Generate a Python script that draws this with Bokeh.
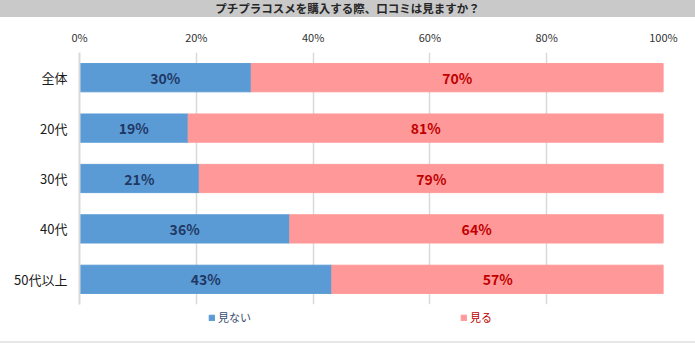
from bokeh.plotting import figure
from bokeh.models import ColumnDataSource, Legend, LegendItem, Div, PrintfTickFormatter, FixedTicker
from bokeh.layouts import column
from bokeh.embed import file_html
from bokeh.resources import INLINE
from bokeh.core.properties import value

title = "プチプラコスメを購入する際、口コミは見ますか？"
categories = ["全体", "20代", "30代", "40代", "50代以上"]
not_see = [29.4, 18.6, 20.5, 36.0, 43.2]
see = [70.6, 81.4, 79.5, 64.0, 56.8]
not_see_labels = ["30%", "19%", "21%", "36%", "43%"]
see_labels = ["70%", "81%", "79%", "64%", "57%"]
x_ticks = [0, 20, 40, 60, 80, 100]
series_names = ["見ない", "見る"]

FONT = "Noto Sans CJK JP"
BLUE = "#5B9BD5"
PINK = "#FF9999"

src = ColumnDataSource(dict(
    cat=categories,
    not_see=not_see,
    see=see,
    not_mid=[v / 2 for v in not_see],
    see_mid=[a + b / 2 for a, b in zip(not_see, see)],
    not_lbl=not_see_labels,
    see_lbl=see_labels,
))

p = figure(width=695, height=291, y_range=list(reversed(categories)), x_range=(0, 100),
           x_axis_location="above", output_backend="svg", toolbar_location=None,
           min_border_left=79, min_border_right=32, min_border_top=35, min_border_bottom=4)
p.outline_line_color = None

rs = p.hbar_stack(["not_see", "see"], y="cat", height=0.56, color=[BLUE, PINK], source=src)

p.text(x="not_mid", y="cat", text="not_lbl", source=src, text_align="center", text_baseline="middle",
       text_font=value(FONT), text_font_size="14px", text_font_style="bold", text_color="#1F3864")
p.text(x="see_mid", y="cat", text="see_lbl", source=src, text_align="center", text_baseline="middle",
       text_font=value(FONT), text_font_size="14px", text_font_style="bold", text_color="#C00000")

xa = p.xaxis[0]
xa.ticker = FixedTicker(ticks=x_ticks)
xa.formatter = PrintfTickFormatter(format="%d%%")
xa.axis_line_color = None
xa.major_tick_line_color = None
xa.minor_tick_line_color = None
xa.major_label_text_font = FONT
xa.major_label_text_font_size = "11px"
xa.major_label_text_color = "#333333"
xa.major_label_standoff = 2

ya = p.yaxis[0]
ya.axis_line_color = "#D9D9D9"
ya.axis_line_width = 2
ya.major_tick_line_color = None
ya.minor_tick_line_color = None
ya.major_label_text_font = FONT
ya.major_label_text_font_size = "13px"
ya.major_label_text_color = "#1A1A1A"
ya.major_label_standoff = 6

p.ygrid.visible = False
p.xgrid.ticker = FixedTicker(ticks=x_ticks)
p.xgrid.grid_line_color = "#D9D9D9"
p.xgrid.grid_line_width = 1.5

# legend strip (separate figure so the legend is not clipped by the main frame)
lf = figure(width=695, height=33, x_range=(0, 100), y_range=(0, 1), output_backend="svg",
            toolbar_location=None, min_border=0, outline_line_color=None,
            x_axis_location=None, y_axis_location=None)
lf.grid.visible = False
lr_not = lf.hbar(y=0.5, left=0, right="not_see", height=0.5, color=BLUE, source=src, visible=False)
lr_see = lf.hbar(y=0.5, left=0, right="see", height=0.5, color=PINK, source=src, visible=False)

def mk_legend(name, rend, loc, color):
    lg = Legend(items=[LegendItem(label=name, renderers=[rend])], location=loc,
                orientation="horizontal", glyph_width=7, glyph_height=7, label_height=12,
                label_standoff=3, label_text_font=FONT, label_text_font_size="11px",
                label_text_color=color, padding=0, margin=0, border_line_color=None,
                background_fill_alpha=0)
    lf.add_layout(lg, "center")

mk_legend(series_names[0], lr_not, (129, 16), "#3A4C6E")
mk_legend(series_names[1], lr_see, (381, 16), "#C00000")

title_div = Div(text=title, width=695, height=17, margin=(0, 0, 0, 0), styles={
    "background-color": "#C9C9C9", "text-align": "center", "font-family": FONT,
    "font-weight": "bold", "font-size": "11.5px", "line-height": "17px", "color": "#262626"})
line_div = Div(text="", width=695, height=2, margin=(0, 0, 0, 0),
               styles={"background-color": "#E6E6E6"})

layout = column(title_div, p, lf, line_div, spacing=0)
open("out.html", "w").write(file_html(layout, INLINE))
